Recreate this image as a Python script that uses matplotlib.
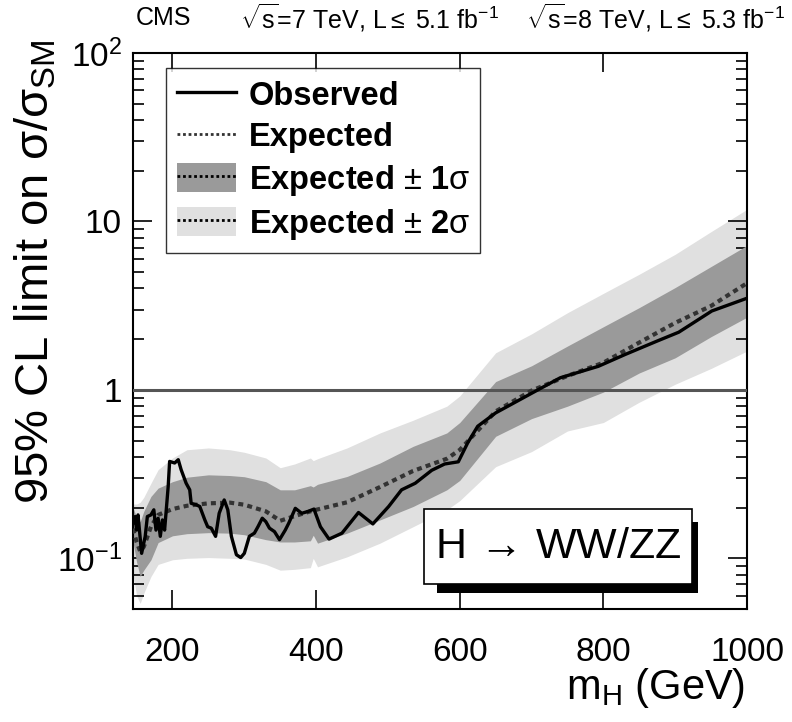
import matplotlib
matplotlib.use("Agg")
import matplotlib.pyplot as plt
from matplotlib.lines import Line2D
from matplotlib.patches import Patch, Rectangle
from matplotlib.ticker import FixedLocator, FixedFormatter, LogLocator, NullFormatter

# -------- Data --------
mass_band = [145, 150, 155, 160, 170, 180, 200, 220, 250, 280, 300, 330, 350, 370,
             392, 396, 402, 443, 489, 535, 582, 600, 650, 700, 750, 800, 850, 900, 950, 1000]
exp_median = [0.150, 0.125, 0.110, 0.117, 0.154, 0.181, 0.196, 0.205, 0.212, 0.214, 0.208, 0.190, 0.167, 0.178,
              0.190, 0.192, 0.195, 0.215, 0.265, 0.330, 0.390, 0.440, 0.745, 0.990, 1.21, 1.45, 1.91, 2.50, 3.15, 4.30]
exp_1s_lo = [0.125, 0.095, 0.078, 0.085, 0.098, 0.124, 0.136, 0.140, 0.142, 0.141, 0.138, 0.129, 0.125, 0.125,
             0.127, 0.137, 0.123, 0.141, 0.169, 0.203, 0.255, 0.290, 0.530, 0.675, 0.800, 0.970, 1.26, 1.55, 2.07, 2.70]
exp_1s_hi = [0.200, 0.175, 0.165, 0.190, 0.233, 0.261, 0.285, 0.303, 0.313, 0.310, 0.305, 0.285, 0.255, 0.255,
             0.270, 0.265, 0.275, 0.306, 0.368, 0.462, 0.555, 0.640, 1.12, 1.39, 1.82, 2.37, 3.08, 4.05, 5.40, 7.20]
exp_2s_lo = [0.080, 0.060, 0.054, 0.062, 0.078, 0.092, 0.098, 0.100, 0.101, 0.100, 0.099, 0.092, 0.085, 0.086,
             0.088, 0.100, 0.089, 0.102, 0.123, 0.154, 0.194, 0.220, 0.350, 0.430, 0.570, 0.640, 0.845, 1.08, 1.34, 1.70]
exp_2s_hi = [0.210, 0.210, 0.215, 0.230, 0.279, 0.336, 0.394, 0.441, 0.452, 0.441, 0.426, 0.394, 0.345, 0.363,
             0.394, 0.380, 0.390, 0.452, 0.555, 0.660, 0.800, 0.920, 1.66, 2.15, 2.87, 3.74, 4.86, 6.38, 8.70, 11.8]

mass_obs = [145, 148, 150, 152, 157, 162, 165, 170, 174, 177, 180, 183, 186, 189, 194, 196, 203, 208,
            212, 219, 224, 226, 233, 238, 245, 249, 254, 260, 265, 272, 277, 282, 289, 295, 300, 307,
            314, 319, 325, 330, 335, 342, 349, 357, 362, 371, 380, 389, 397, 406, 418, 436, 459, 479,
            501, 519, 538, 561, 579, 598, 611, 625, 650, 705, 740, 793, 830, 875, 905, 951, 1000]
obs_limit = [0.162, 0.177, 0.147, 0.181, 0.107, 0.135, 0.177, 0.181, 0.194, 0.147, 0.173, 0.135, 0.169, 0.147,
             0.267, 0.376, 0.368, 0.385, 0.336, 0.279, 0.255, 0.212, 0.208, 0.203, 0.169, 0.154, 0.151, 0.135,
             0.185, 0.222, 0.194, 0.135, 0.105, 0.101, 0.107, 0.135, 0.141, 0.154, 0.173, 0.165, 0.151, 0.144,
             0.129, 0.147, 0.162, 0.198, 0.185, 0.190, 0.196, 0.154, 0.130, 0.141, 0.187, 0.160, 0.203, 0.255,
             0.279, 0.333, 0.363, 0.374, 0.484, 0.608, 0.730, 0.980, 1.18, 1.38, 1.62, 1.95, 2.20, 2.94, 3.50]

x_ticks = [200, 400, 600, 800, 1000]
y_ticks = [0.1, 1, 10, 100]
y_ticklabels = [r"$10^{-1}$", "1", "10", r"$10^{2}$"]

# -------- Style --------
plt.rcParams["font.family"] = ["Liberation Sans", "DejaVu Sans"]
plt.rcParams["mathtext.fontset"] = "custom"
plt.rcParams["mathtext.rm"] = "Liberation Sans"
plt.rcParams["mathtext.it"] = "Liberation Sans:italic"
plt.rcParams["mathtext.bf"] = "Liberation Sans:bold"

C_2S = "#e0e0e0"
C_1S = "#9a9a9a"
C_EXP = "#333333"
EXP_DASH = (0, (1.2, 1.0))

fig = plt.figure(figsize=(7.92, 7.22), dpi=100)
ax = fig.add_axes([133 / 792, 1 - 609 / 722, 614 / 792, 556 / 722])

ax.fill_between(mass_band, exp_2s_lo, exp_2s_hi, color=C_2S, lw=0, zorder=1)
ax.fill_between(mass_band, exp_1s_lo, exp_1s_hi, color=C_1S, lw=0, zorder=2)
ax.axhline(1, color="#555555", lw=2.2, zorder=3)
ax.plot(mass_band, exp_median, color=C_EXP, lw=3, ls=EXP_DASH, zorder=4)
ax.plot(mass_obs, obs_limit, color="black", lw=2.4, zorder=5)

ax.set_yscale("log")
ax.set_xlim(145, 1000)
ax.set_ylim(0.05, 100)

ax.xaxis.set_major_locator(FixedLocator(x_ticks))
ax.yaxis.set_major_locator(FixedLocator(y_ticks))
ax.yaxis.set_major_formatter(FixedFormatter(y_ticklabels))
ax.yaxis.set_minor_locator(LogLocator(base=10, subs=range(2, 10)))
ax.yaxis.set_minor_formatter(NullFormatter())

ax.tick_params(axis="both", which="both", direction="in", top=True, right=True, width=1.2)
ax.tick_params(axis="x", which="major", length=14, pad=20, labelsize=24)
ax.tick_params(axis="y", which="major", length=14, pad=8, labelsize=24)
ax.tick_params(axis="y", which="minor", length=8)
for s in ax.spines.values():
    s.set_linewidth(1.5)

# -------- Labels --------
fig.text(36 / 792, 1 - 272 / 722, "95% CL limit on σ/σ$_\\mathrm{SM}$", rotation=90,
         ha="center", va="center", fontsize=34)
fig.text(745 / 792, 1 - 688 / 722, r"m$_\mathrm{H}$ (GeV)", ha="right", va="center", fontsize=30)

fig.text(136 / 792, 1 - 18 / 722, "CMS", ha="left", va="center", fontsize=18)
fig.text(240 / 792, 1 - 18 / 722, r"$\sqrt{\mathrm{s}}$=7 TeV, L$\leq$ 5.1 fb$^{-1}$",
         ha="left", va="center", fontsize=18)
fig.text(526 / 792, 1 - 18 / 722, r"$\sqrt{\mathrm{s}}$=8 TeV, L$\leq$ 5.3 fb$^{-1}$",
         ha="left", va="center", fontsize=18)

# -------- Channel box with shadow --------
ax.add_patch(Rectangle((0.495, 0.029), 0.425, 0.128, transform=ax.transAxes,
                       facecolor="black", edgecolor="none", zorder=6))
ax.add_patch(Rectangle((0.474, 0.045), 0.436, 0.135, transform=ax.transAxes,
                       facecolor="white", edgecolor="black", lw=1.2, zorder=7))
ax.text(0.692, 0.112, r"H$\,\rightarrow\,$WW/ZZ", transform=ax.transAxes,
        ha="center", va="center", fontsize=31, zorder=8)

# -------- Legend --------
handles = [
    Line2D([], [], color="black", lw=2.4),
    Line2D([], [], color=C_EXP, lw=2, ls=(0, (1, 1))),
    (Patch(facecolor=C_1S, edgecolor="none"), Line2D([], [], color="black", lw=2, ls=(0, (1, 1)))),
    (Patch(facecolor=C_2S, edgecolor="none"), Line2D([], [], color="black", lw=2, ls=(0, (1, 1)))),
]
labels = ["Observed", "Expected", r"Expected $\pm$ 1$\mathrm{\sigma}$", r"Expected $\pm$ 2$\mathrm{\sigma}$"]
leg = ax.legend(handles, labels, loc="upper left", bbox_to_anchor=(166 / 792, 1 - 68 / 722),
                bbox_transform=fig.transFigure, borderaxespad=0, frameon=True, fancybox=False,
                prop={"weight": "bold", "size": 23.5}, handlelength=1.8, handleheight=1.0,
                handletextpad=0.4, labelspacing=0.28, borderpad=0.33)
leg.get_frame().set_edgecolor("black")
leg.get_frame().set_linewidth(1.0)
leg.set_zorder(10)

fig.savefig("out.png", dpi=100)
